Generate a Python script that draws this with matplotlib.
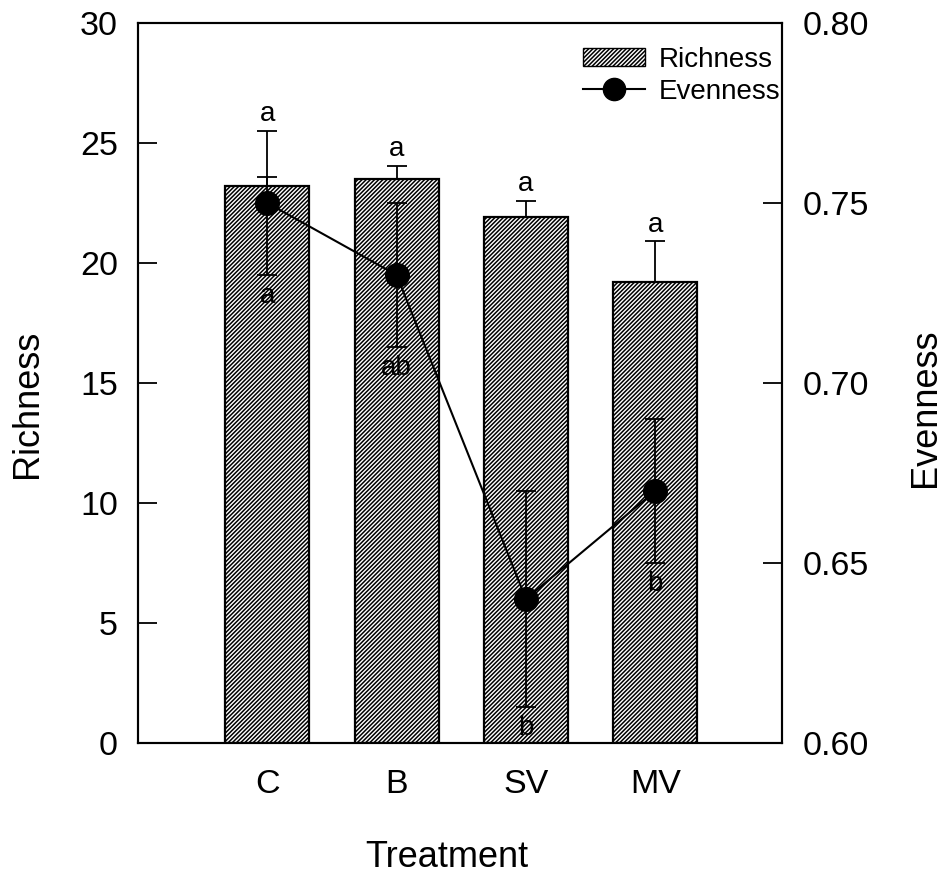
import matplotlib
matplotlib.use("Agg")
import matplotlib.pyplot as plt
import numpy as np
from matplotlib.patches import Patch
from matplotlib.lines import Line2D

plt.rcParams['font.family'] = ['Liberation Sans', 'DejaVu Sans']
plt.rcParams['hatch.linewidth'] = 1.1

# Data
treatments = ["C", "B", "SV", "MV"]
richness = [23.2, 23.5, 21.9, 19.2]
richness_err = [0.4, 0.55, 0.7, 1.7]
evenness = [0.750, 0.730, 0.640, 0.670]
evenness_err = [0.020, 0.020, 0.030, 0.020]
richness_letters = ["a", "a", "a", "a"]
evenness_letters = ["a", "ab", "b", "b"]

x = np.arange(len(treatments))

fig = plt.figure(figsize=(9.49, 8.75), dpi=100)
ax = fig.add_axes([138 / 949, 132 / 875, 644 / 949, 720 / 875])
ax2 = ax.twinx()

# Richness bars with upper error bars
ax.bar(x, richness, width=0.65, color="white", edgecolor="black",
       linewidth=1.6, hatch="////////", zorder=2)
ax.errorbar(x, richness, yerr=[np.zeros(len(x)), richness_err], fmt="none",
            ecolor="black", elinewidth=1.3, capsize=7, capthick=1.3, zorder=3)

# Evenness line with symmetric error bars
ax2.errorbar(x, evenness, yerr=evenness_err, fmt="-o", color="black",
             lw=1.5, ms=17, elinewidth=1.3, capsize=7, capthick=1.3, zorder=4)

ax.set_xlim(-1.0, 3.98)
ax.set_ylim(0, 30)
ax2.set_ylim(0.60, 0.80)
ax.set_yticks([0, 5, 10, 15, 20, 25, 30])
ax2.set_yticks([0.60, 0.65, 0.70, 0.75, 0.80])
ax2.set_yticklabels([f"{v:.2f}" for v in [0.60, 0.65, 0.70, 0.75, 0.80]])
ax.set_xticks(x)
ax.set_xticklabels(treatments)

ax.tick_params(axis="y", direction="in", length=13.5, width=1.3,
               labelsize=24.5, pad=14.5)
ax2.tick_params(axis="y", direction="in", length=13.5, width=1.3,
                labelsize=24.5, pad=14.5)
ax.tick_params(axis="x", length=0, labelsize=24.5, pad=19)

for a in (ax, ax2):
    for s in a.spines.values():
        s.set_linewidth(1.5)

# Significance letters
to_disp_even = ax2.transData
to_data_rich = ax.transData.inverted()
for xi, r, re, e, ee, lr, le in zip(x, richness, richness_err, evenness,
                                    evenness_err, richness_letters,
                                    evenness_letters):
    top_even = to_data_rich.transform(to_disp_even.transform((xi, e + ee)))[1]
    top = max(r + re, top_even)
    ax.annotate(lr, (xi, top), xytext=(0, 7), textcoords="offset points",
                ha="center", va="baseline", fontsize=20, zorder=5)
    ax2.annotate(le, (xi, e - ee), xytext=(0, -20), textcoords="offset points",
                 ha="center", va="baseline", fontsize=20, zorder=5)

# Axis labels
ax.set_xlabel("Treatment", fontsize=26)
ax.xaxis.set_label_coords(0.48, -0.135)
fig.text(28 / 949, 1 - 404 / 875, "Richness", rotation=90, fontsize=26,
         ha="center", va="center")
fig.text(925 / 949, 1 - 408 / 875, "Evenness", rotation=90, fontsize=26,
         ha="center", va="center")

# Legend
handles = [
    Patch(facecolor="white", edgecolor="black", hatch="////////", linewidth=1.0),
    Line2D([0], [0], color="black", lw=1.5, marker="o", ms=16),
]
ax2.legend(handles, ["Richness", "Evenness"], loc="upper right",
           bbox_to_anchor=(0.997, 1 - 24 / 720), frameon=False, fontsize=20,
           handlelength=2.2, handleheight=0.62, handletextpad=0.5,
           labelspacing=0.2, borderpad=0, borderaxespad=0)

fig.savefig("out.png", dpi=100)
